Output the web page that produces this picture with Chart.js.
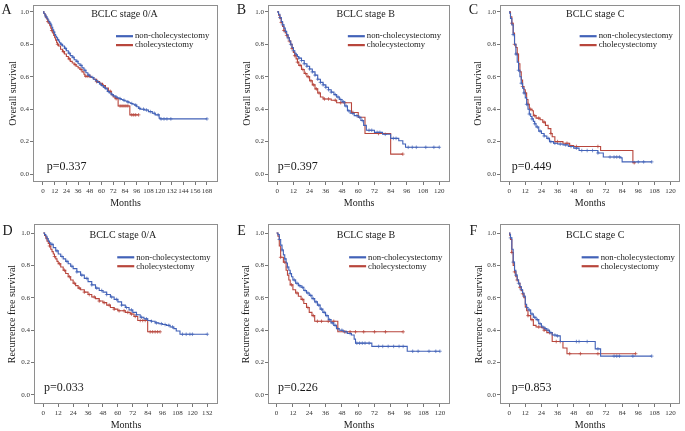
<!DOCTYPE html>
<html>
<head>
<meta charset="utf-8">
<script src="https://cdn.jsdelivr.net/npm/chart.js@4.4.1/dist/chart.umd.min.js"></script>
<style>
  body { margin: 0; background: #fff; width: 685px; height: 431px; position: relative; overflow: hidden; }
  canvas { position: absolute; }
</style>
</head>
<body>
<canvas id="pA" width="228" height="215" style="left:0;top:0"></canvas>
<canvas id="pB" width="227" height="215" style="left:228px;top:0"></canvas>
<canvas id="pC" width="230" height="215" style="left:455px;top:0"></canvas>
<canvas id="pD" width="228" height="216" style="left:0;top:215px"></canvas>
<canvas id="pE" width="227" height="216" style="left:228px;top:215px"></canvas>
<canvas id="pF" width="230" height="216" style="left:455px;top:215px"></canvas>
<script>
// Kaplan-Meier curves: [month, survival] where the step lands
// A - overall survival, BCLC 0/A
const osA_non = [[0,1],[1,0.99],[2,0.98],[3,0.97],[4,0.96],[5,0.95],[6,0.94],[7,0.93],[8,0.92],[9,0.905],[10,0.89],[11,0.875],[12,0.86],[13,0.85],[14,0.84],[15,0.83],[16,0.82],[17,0.81],[18,0.8],[20,0.79],[22,0.775],[24,0.76],[26,0.745],[28,0.73],[30,0.72],[32,0.705],[34,0.695],[36,0.68],[38,0.67],[40,0.655],[42,0.64],[44,0.625],[46,0.61],[48,0.6],[50,0.595],[52,0.585],[54,0.575],[56,0.565],[58,0.555],[60,0.545],[62,0.535],[64,0.525],[66,0.51],[68,0.5],[70,0.49],[72,0.482],[74,0.475],[76,0.47],[78,0.465],[80,0.46],[82,0.455],[84,0.45],[86,0.445],[88,0.44],[90,0.435],[92,0.43],[94,0.425],[96,0.415],[98,0.405],[100,0.4],[104,0.395],[108,0.385],[112,0.375],[115,0.365],[119,0.345],[120,0.34],[168,0.34]];
const osA_chol = [[0,1],[1,0.99],[2,0.98],[3,0.965],[4,0.955],[5,0.94],[6,0.93],[7,0.915],[8,0.9],[9,0.885],[10,0.87],[11,0.855],[12,0.84],[13,0.825],[14,0.81],[15,0.8],[16,0.79],[18,0.77],[20,0.755],[22,0.74],[24,0.725],[26,0.71],[28,0.695],[30,0.685],[32,0.675],[34,0.665],[36,0.655],[38,0.645],[40,0.63],[42,0.615],[43,0.603],[49,0.595],[52,0.585],[55,0.57],[58,0.56],[61,0.545],[64,0.53],[67,0.51],[70,0.49],[72,0.475],[74,0.465],[77,0.42],[89,0.365],[98,0.365]];
const osA_nonCens = [3,7,11,15,19,23,27,31,35,39,43,47,51,55,59,63,67,71,75,79,83,87,91,95,99,103,106,110,114,118,121,124,127,131,168];
const osA_cholCens = [5,9,15,21,27,33,39,44,46,48,55,62,69,75,79,81,83,85,87,91,93,95,98];

// B - overall survival, BCLC B
const osB_non = [[0,1],[1,0.985],[2,0.965],[3,0.94],[4,0.92],[5,0.9],[6,0.88],[7,0.86],[8,0.84],[9,0.82],[10,0.8],[11,0.78],[12,0.76],[13,0.745],[14,0.735],[15,0.725],[16,0.715],[18,0.7],[20,0.68],[22,0.665],[24,0.648],[26,0.63],[28,0.61],[30,0.585],[32,0.565],[34,0.55],[36,0.535],[38,0.52],[40,0.505],[42,0.49],[44,0.475],[46,0.46],[48,0.445],[50,0.42],[52,0.39],[54,0.375],[57,0.36],[60,0.35],[62,0.33],[64,0.3],[66,0.27],[72,0.257],[78,0.245],[84,0.22],[90,0.205],[93,0.185],[95,0.165],[120,0.165]];
const osB_chol = [[0,1],[1,0.98],[2,0.96],[3,0.935],[4,0.91],[5,0.885],[6,0.87],[7,0.855],[8,0.84],[9,0.82],[10,0.8],[11,0.775],[12,0.75],[13,0.73],[14,0.71],[15,0.69],[16,0.67],[18,0.645],[20,0.62],[22,0.6],[24,0.575],[26,0.55],[28,0.525],[30,0.5],[32,0.475],[34,0.463],[40,0.455],[44,0.44],[55,0.38],[60,0.35],[65,0.25],[84,0.123],[93,0.123]];
const osB_nonCens = [2,4,6,8,10,12,14,16,18,20,22,24,26,28,30,32,34,36,38,40,43,45,47,49,51,53,56,59,61,63,68,70,74,76,80,86,88,97,100,103,110,116,120];
const osB_cholCens = [3,5,7,9,11,13,15,17,19,21,23,25,27,29,31,35,38,43,47,50,56,75,93];

// C - overall survival, BCLC C
const osC_non = [[0,1],[0.5,0.99],[1,0.96],[2,0.92],[3,0.86],[4,0.8],[5,0.74],[6,0.69],[7,0.64],[8,0.6],[9,0.56],[10,0.53],[11,0.5],[12,0.47],[13,0.43],[14,0.4],[15,0.37],[16,0.355],[17,0.34],[18,0.325],[19,0.31],[20,0.29],[22,0.265],[24,0.25],[26,0.235],[28,0.22],[30,0.2],[33,0.19],[36,0.185],[40,0.18],[44,0.17],[48,0.16],[52,0.145],[66,0.13],[70,0.105],[83,0.1],[84,0.075],[106,0.075]];
const osC_chol = [[0,1],[1,0.97],[2,0.93],[3,0.87],[4,0.8],[5,0.78],[6,0.74],[7,0.68],[8,0.63],[9,0.58],[10,0.54],[11,0.52],[12,0.5],[13,0.46],[14,0.43],[15,0.4],[17,0.39],[18,0.36],[20,0.345],[23,0.335],[25,0.32],[27,0.3],[29,0.28],[31,0.25],[32,0.23],[34,0.2],[40,0.19],[45,0.175],[48,0.17],[68,0.145],[92,0.07],[94,0.07]];
const osC_nonCens = [3,5,7,9,11,13,15,17,19,21,23,26,29,31,34,38,42,46,50,54,58,62,66,75,78,80,82,96,100,106];
const osC_cholCens = [2,4,6,10,12,14,16,19,22,26,31,36,43,50,66,93];

// D - recurrence free survival, BCLC 0/A
const rfsD_non = [[0,1],[1,0.99],[2,0.98],[3,0.965],[4,0.95],[5,0.94],[6,0.93],[8,0.91],[10,0.89],[12,0.87],[14,0.855],[16,0.84],[18,0.825],[20,0.81],[22,0.795],[24,0.78],[27,0.76],[30,0.74],[33,0.72],[36,0.7],[39,0.68],[42,0.66],[45,0.645],[48,0.635],[51,0.62],[54,0.605],[57,0.59],[60,0.575],[63,0.555],[66,0.54],[69,0.525],[72,0.51],[75,0.495],[78,0.48],[81,0.47],[84,0.46],[87,0.455],[90,0.445],[93,0.44],[96,0.435],[99,0.43],[102,0.42],[105,0.41],[107,0.395],[110,0.375],[132,0.375]];
const rfsD_chol = [[0,1],[1,0.985],[2,0.97],[3,0.95],[4,0.935],[5,0.92],[6,0.9],[7,0.885],[8,0.87],[9,0.855],[10,0.84],[11,0.825],[12,0.81],[14,0.79],[16,0.77],[18,0.75],[20,0.73],[22,0.71],[24,0.69],[26,0.675],[28,0.66],[30,0.65],[33,0.635],[36,0.62],[39,0.605],[42,0.595],[45,0.58],[48,0.57],[51,0.555],[54,0.54],[57,0.53],[60,0.52],[66,0.51],[70,0.5],[73,0.485],[76,0.46],[84,0.39],[94,0.39]];
const rfsD_nonCens = [3,7,11,15,19,23,27,31,35,39,43,47,51,55,59,63,67,71,75,79,83,87,91,95,98,101,104,112,115,118,120,132];
const rfsD_cholCens = [5,9,13,17,21,25,29,33,37,41,45,49,53,57,61,65,68,71,74,78,80,82,86,88,90,92,94];

// E - recurrence free survival, BCLC B
const rfsE_non = [[0,1],[1,0.99],[2,0.96],[3,0.925],[4,0.895],[5,0.865],[6,0.84],[7,0.815],[8,0.79],[9,0.77],[10,0.75],[11,0.73],[12,0.71],[14,0.69],[16,0.675],[18,0.665],[20,0.645],[22,0.63],[24,0.615],[26,0.595],[28,0.575],[30,0.555],[32,0.53],[34,0.51],[36,0.49],[38,0.465],[40,0.445],[42,0.43],[44,0.41],[46,0.4],[49,0.39],[52,0.38],[55,0.37],[57,0.345],[58,0.32],[70,0.3],[96,0.27],[120,0.27]];
const rfsE_chol = [[0,1],[1,0.98],[2,0.92],[3,0.85],[5,0.82],[7,0.77],[8,0.74],[9,0.71],[10,0.68],[12,0.65],[14,0.63],[16,0.61],[18,0.59],[20,0.565],[22,0.54],[24,0.51],[26,0.49],[28,0.455],[45,0.39],[93,0.39]];
const rfsE_nonCens = [2,4,6,8,10,13,15,17,19,21,23,25,27,29,31,33,35,37,39,41,43,45,48,51,54,59,61,63,65,68,75,78,82,86,90,93,100,104,112,117,120];
const rfsE_cholCens = [3,6,11,15,19,23,27,30,33,38,42,50,54,58,64,72,80,93];

// F - recurrence free survival, BCLC C
const rfsF_non = [[0,1],[0.5,0.99],[1,0.97],[2,0.9],[3,0.82],[4,0.77],[5,0.74],[6,0.71],[7,0.69],[8,0.67],[9,0.65],[10,0.63],[11,0.61],[12,0.56],[13,0.54],[14,0.525],[16,0.5],[18,0.48],[20,0.465],[22,0.44],[24,0.42],[26,0.41],[28,0.4],[30,0.385],[32,0.37],[35,0.365],[38,0.33],[64,0.285],[68,0.24],[106,0.24]];
const rfsF_chol = [[0,1],[0.5,0.985],[1,0.96],[2,0.88],[3,0.8],[4,0.76],[5,0.73],[6,0.71],[7,0.69],[8,0.665],[9,0.645],[10,0.625],[11,0.6],[12,0.545],[13,0.52],[14,0.49],[16,0.465],[18,0.43],[20,0.42],[24,0.415],[26,0.4],[28,0.385],[32,0.33],[40,0.29],[43,0.255],[94,0.255]];
const rfsF_nonCens = [1,3,5,7,9,11,13,15,17,19,21,23,25,27,29,31,34,36,50,52,58,66,78,80,82,92,106];
const rfsF_cholCens = [2,4,6,8,10,14,17,22,26,30,35,38,45,53,66,94];

const panelLetters = ["A", "B", "C", "D", "E", "F"];
const stageTitles = ["BCLC stage 0/A", "BCLC stage B", "BCLC stage C", "BCLC stage 0/A", "BCLC stage B", "BCLC stage C"];
const pValues = ["p=0.337", "p=0.397", "p=0.449", "p=0.033", "p=0.226", "p=0.853"];
const groupNames = ["non-cholecystectomy", "cholecystectomy"];
const yTitles = ["Overall survival", "Recurrence free survival"];

const BLUE = "#4262b8";
const RED = "#b8463c";
const FONT = "'Liberation Serif', 'DejaVu Serif', serif";

function stepAt(curve, t) {
  let s = curve[0][1];
  for (const [x, y] of curve) if (x <= t) s = y;
  return s;
}
const toXY = (curve) => curve.map(([x, y]) => ({ x, y }));
const censorXY = (curve, times) => times.map((t) => ({ x: t, y: stepAt(curve, t) }));

// draws the frame, in-plot title, legend, p value and panel letter
const deco = {
  id: "deco",
  afterDraw(chart, args, o) {
    const { ctx, chartArea: a, scales: { x, y } } = chart;
    ctx.save();
    ctx.strokeStyle = "#8e8e8e";
    ctx.lineWidth = 1;
    ctx.strokeRect(Math.round(a.left) + 0.5, Math.round(a.top) + 0.5,
      Math.round(a.right - a.left) - 1, Math.round(a.bottom - a.top) - 1);

    ctx.fillStyle = "#1a1a1a";
    ctx.textBaseline = "middle";
    ctx.textAlign = "center";
    ctx.font = "10px " + FONT;
    ctx.fillText(o.title, x.getPixelForValue(o.titleAt), y.getPixelForValue(0.983));

    const lx = x.getPixelForValue(o.legendAt);
    [[BLUE, 0.85], [RED, 0.795]].forEach(([c, v], i) => {
      const ly = y.getPixelForValue(v);
      ctx.strokeStyle = c;
      ctx.lineWidth = 2.2;
      ctx.beginPath();
      ctx.moveTo(lx, ly);
      ctx.lineTo(lx + 17, ly);
      ctx.stroke();
      ctx.textAlign = "left";
      ctx.font = "8.7px " + FONT;
      ctx.fillText(groupNames[i], lx + 19, ly);
    });

    ctx.font = "12px " + FONT;
    ctx.textAlign = "left";
    ctx.fillText(o.p, x.getPixelForValue(o.pAt), y.getPixelForValue(0.047));

    ctx.font = "14px " + FONT;
    ctx.textAlign = "center";
    ctx.fillText(o.letter, a.left - 26.5, y.getPixelForValue(1) - 1.5);
    ctx.restore();
  },
};

// canvas geometry (absolute page px) and axis ranges per panel
const panels = [
  { id: "pA", cl: 0, ct: 0, cw: 228, ch: 215, box: [33, 4, 218, 182], ytc: 13.5, xr: [-10.2, 179.3], yr: [-0.049, 1.043], titleAt: 83.5, legendAt: 74.8, pAt: 3.8, non: osA_non, chol: osA_chol, nc: osA_nonCens, cc: osA_cholCens },
  { id: "pB", cl: 228, ct: 0, cw: 227, ch: 215, box: [268, 4, 453, 182], ytc: 247, xr: [-6.8, 128], yr: [-0.049, 1.043], titleAt: 65.5, legendAt: 52.3, pAt: 0.5, non: osB_non, chol: osB_chol, nc: osB_nonCens, cc: osB_cholCens },
  { id: "pC", cl: 455, ct: 0, cw: 230, ch: 215, box: [500, 4, 683, 182], ytc: 478.5, xr: [-6.8, 127.1], yr: [-0.049, 1.043], titleAt: 64, legendAt: 52.4, pAt: 2, non: osC_non, chol: osC_chol, nc: osC_nonCens, cc: osC_cholCens },
  { id: "pD", cl: 0, ct: 215, cw: 228, ch: 216, box: [34, 224, 218, 404], ytc: 12.5, xr: [-7.5, 140.6], yr: [-0.0556, 1.0556], titleAt: 64, legendAt: 59.5, pAt: 0.6, non: rfsD_non, chol: rfsD_chol, nc: rfsD_nonCens, cc: rfsD_cholCens },
  { id: "pE", cl: 228, ct: 215, cw: 227, ch: 216, box: [268, 224, 452, 404], ytc: 246, xr: [-6.3, 127.5], yr: [-0.0556, 1.0556], titleAt: 65.7, legendAt: 53.3, pAt: 1, non: rfsE_non, chol: rfsE_chol, nc: rfsE_nonCens, cc: rfsE_cholCens },
  { id: "pF", cl: 455, ct: 215, cw: 230, ch: 216, box: [500, 224, 683, 404], ytc: 479.5, xr: [-6.8, 127.1], yr: [-0.0556, 1.0556], titleAt: 64, legendAt: 53.9, pAt: 2, non: rfsF_non, chol: rfsF_chol, nc: rfsF_nonCens, cc: rfsF_cholCens },
];

panels.forEach((p, i) => {
  const padL = p.ytc - p.cl - 7;
  const yW = p.box[0] - p.cl - padL;
  const xH = p.ct + p.ch - p.box[3];
  const tickFont = { family: FONT, size: 7 };
  const titleFont = { family: FONT, size: 10 };
  new Chart(document.getElementById(p.id), {
    type: "line",
    data: {
      datasets: [
        { data: toXY(p.non), borderColor: BLUE, borderWidth: 1.1, stepped: true, pointRadius: 0, fill: false },
        { data: toXY(p.chol), borderColor: RED, borderWidth: 1.1, stepped: true, pointRadius: 0, fill: false },
        { data: censorXY(p.non, p.nc), showLine: false, pointStyle: "cross", pointRadius: 1.8, borderColor: "rgba(66,98,184,0.75)", borderWidth: 0.9 },
        { data: censorXY(p.chol, p.cc), showLine: false, pointStyle: "cross", pointRadius: 1.8, borderColor: "rgba(184,70,60,0.8)", borderWidth: 0.9 },
      ],
    },
    options: {
      responsive: false,
      animation: false,
      devicePixelRatio: 1,
      layout: { padding: { left: padL, right: p.cl + p.cw - p.box[2], top: p.box[1] - p.ct, bottom: 0 } },
      plugins: {
        legend: { display: false },
        tooltip: { enabled: false },
        deco: { letter: panelLetters[i], title: stageTitles[i], p: pValues[i], titleAt: p.titleAt, legendAt: p.legendAt, pAt: p.pAt },
      },
      scales: {
        x: {
          type: "linear",
          min: p.xr[0],
          max: p.xr[1],
          afterFit: (s) => { s.height = xH; s.paddingLeft = 0; s.paddingRight = 0; },
          border: { display: false },
          grid: { drawOnChartArea: false, tickLength: 3, color: "#777" },
          ticks: { stepSize: 12, includeBounds: false, autoSkip: false, maxRotation: 0, font: tickFont, color: "#333", padding: 2 },
          title: { display: true, text: "Months", font: titleFont, color: "#1a1a1a", padding: { top: 0, bottom: i < 3 ? 6 : 0 } },
        },
        y: {
          min: p.yr[0],
          max: p.yr[1],
          afterFit: (s) => { s.width = yW; s.paddingTop = 0; s.paddingBottom = 0; },
          border: { display: false },
          grid: { drawOnChartArea: false, tickLength: 3, color: "#777" },
          ticks: { stepSize: 0.2, includeBounds: false, font: tickFont, color: "#333", padding: 1, callback: (v) => v.toFixed(1) },
          title: { display: true, text: yTitles[i < 3 ? 0 : 1], font: titleFont, color: "#1a1a1a", padding: { top: 1, bottom: 0 } },
        },
      },
    },
    plugins: [deco],
  });
});
</script>
</body>
</html>
